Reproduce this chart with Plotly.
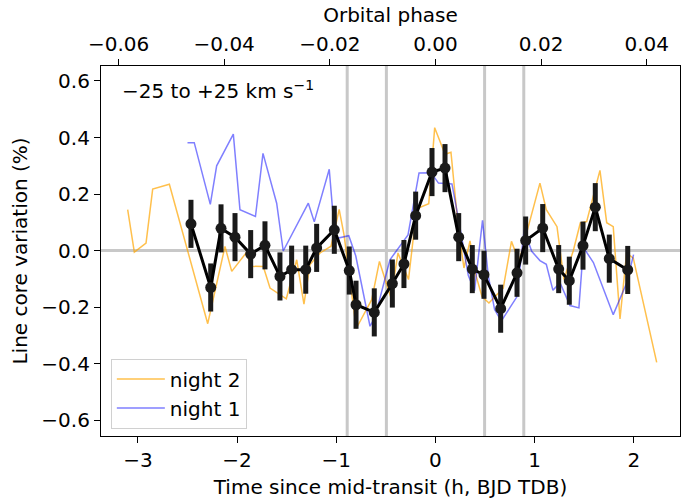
import plotly.graph_objects as go

# night 2 (orange), hours from mid-transit vs line core variation (%)
hours_n2 = [-3.103, -3.036, -2.918, -2.851, -2.683, -2.296, -2.122, -2.054, -1.910, -1.853,
            -1.736, -1.668, -1.504, -1.399, -1.326, -1.265, -1.164, -1.053, -0.971, -0.922,
            -0.799, -0.643, -0.565, -0.449, -0.378, -0.272, -0.190, -0.068, -0.008, 0.096,
            0.156, 0.232, 0.287, 0.348, 0.403, 0.469, 0.539, 0.683, 0.766, 0.842,
            1.053, 1.117, 1.225, 1.278, 1.295, 1.389, 1.460, 1.524, 1.658, 1.726,
            1.792, 1.860, 1.927, 1.994, 2.230]
ccv_n2 = [0.145, -0.005, 0.027, 0.218, 0.235, -0.258, 0.015, -0.073, -0.008, -0.055,
          -0.056, -0.132, -0.170, -0.032, -0.189, -0.049, -0.008, 0.016, 0.146, 0.056,
          -0.275, -0.173, -0.038, -0.166, -0.008, -0.102, 0.148, 0.166, 0.435, 0.341,
          0.348, 0.074, -0.061, 0.035, -0.081, -0.162, -0.185, -0.132, 0.033, -0.038,
          0.239, 0.145, 0.085, -0.074, -0.102, 0.000, 0.098, 0.103, 0.284, 0.099,
          0.085, -0.241, -0.008, -0.026, -0.395]

# night 1 (blue)
hours_n1 = [-2.500, -2.432, -2.270, -2.206, -2.038, -1.971, -1.815, -1.739, -1.601, -1.535,
            -1.282, -1.222, -1.071, -1.013, -0.874, -0.804, -0.660, -0.610, -0.459, -0.277,
            -0.166, -0.045, 0.030, 0.166, 0.237, 0.331, 0.394, 0.474, 0.532, 0.596,
            0.663, 0.819, 0.894, 0.970, 1.053, 1.117, 1.184, 1.255, 1.356, 1.446,
            1.491, 1.592, 1.792, 1.927, 1.997]
ccv_n1 = [0.382, 0.382, 0.164, 0.300, 0.412, 0.145, 0.121, 0.344, 0.168, -0.001,
          0.168, 0.102, 0.288, 0.042, 0.053, -0.018, -0.267, -0.235, -0.032, 0.056,
          0.275, 0.276, 0.239, 0.236, 0.102, -0.088, -0.141, 0.107, -0.088, -0.208,
          -0.249, -0.164, 0.074, -0.002, -0.035, -0.048, -0.140, -0.113, -0.194, -0.202,
          0.012, -0.042, -0.226, -0.114, -0.014]

# binned average of both nights
hours_bin = [-2.465, -2.266, -2.162, -2.021, -1.863, -1.719, -1.568, -1.450, -1.308, -1.198,
             -1.020, -0.869, -0.801, -0.617, -0.435, -0.318, -0.200, -0.035, 0.096, 0.234,
             0.371, 0.489, 0.657, 0.822, 0.909, 1.081, 1.242, 1.349, 1.487, 1.611,
             1.752, 1.938]
ccv_bin = [0.095, -0.130, 0.079, 0.048, -0.012, 0.019, -0.091, -0.067, -0.067, 0.010,
           0.074, -0.070, -0.191, -0.218, -0.116, -0.047, 0.124, 0.278, 0.292, 0.048,
           -0.065, -0.085, -0.205, -0.078, 0.036, 0.080, -0.065, -0.106, 0.018, 0.154,
           -0.028, -0.068]
err_bin = [0.085, 0.085, 0.085, 0.085, 0.085, 0.085, 0.085, 0.085, 0.085, 0.085,
           0.085, 0.085, 0.085, 0.085, 0.085, 0.085, 0.085, 0.085, 0.085, 0.085,
           0.085, 0.085, 0.085, 0.085, 0.085, 0.085, 0.085, 0.085, 0.085, 0.085,
           0.085, 0.085]

contacts = [-0.89, -0.495, 0.495, 0.89]
period_h = 53.25

x_ticks = [-3, -2, -1, 0, 1, 2]
phase_ticks = [-0.06, -0.04, -0.02, 0.00, 0.02, 0.04]
y_ticks = [-0.6, -0.4, -0.2, 0.0, 0.2, 0.4, 0.6]

x_range = [-3.372, 2.465]
y_range = [-0.655, 0.653]


def minus(s):
    return s.replace("-", "\u2212")


FONT = dict(family="DejaVu Sans", size=20, color="black")
GRAY = "#c8c8c8"
TICKS = dict(ticks="outside", ticklen=6, tickwidth=1.2, tickcolor="black",
             tickfont=FONT, showgrid=False, zeroline=False, automargin=False)

fig = go.Figure()

fig.add_trace(go.Scatter(
    x=hours_n2, y=ccv_n2, mode="lines", name="night 2",
    line=dict(color="rgba(255,165,0,0.7)", width=1.5),
))
fig.add_trace(go.Scatter(
    x=hours_n1, y=ccv_n1, mode="lines", name="night 1",
    line=dict(color="rgba(0,0,255,0.5)", width=1.5),
))
fig.add_trace(go.Scatter(
    x=hours_bin, y=ccv_bin, mode="lines+markers", showlegend=False,
    line=dict(color="black", width=3),
    marker=dict(color="#1a1a1a", size=11),
    error_y=dict(type="data", array=err_bin, color="#1a1a1a", thickness=5, width=0),
))
# invisible trace so the top (phase) axis gets drawn
fig.add_trace(go.Scatter(x=[0], y=[0], xaxis="x2", mode="markers",
                         marker=dict(opacity=0), showlegend=False, hoverinfo="skip"))

for c in contacts:
    fig.add_shape(type="line", x0=c, x1=c, y0=0, y1=1, xref="x", yref="paper",
                  line=dict(color=GRAY, width=3), layer="below")

fig.add_annotation(x=0.033, y=0.975, xref="paper", yref="paper",
                   text="\u221225 to +25 km s<sup>\u22121</sup>", showarrow=False,
                   xanchor="left", yanchor="top", font=FONT)

fig.update_layout(
    width=681, height=502,
    margin=dict(l=101, r=1, t=66, b=66),
    paper_bgcolor="white", plot_bgcolor="white",
    font=FONT,
    xaxis=dict(
        range=x_range, tickvals=x_ticks, ticktext=[minus(str(v)) for v in x_ticks],
        showline=True, linecolor="black", linewidth=1.2, mirror=True,
        title=dict(text="Time since mid-transit (h, BJD TDB)", standoff=8, font=FONT),
        **TICKS,
    ),
    xaxis2=dict(
        overlaying="x", side="top", anchor="y",
        range=[v / period_h for v in x_range],
        tickvals=phase_ticks, ticktext=[minus("%.2f" % v) for v in phase_ticks],
        title=dict(text="Orbital phase", standoff=4, font=FONT),
        **TICKS,
    ),
    yaxis=dict(
        range=y_range, tickvals=y_ticks, ticktext=[minus("%.1f" % v) for v in y_ticks],
        showline=True, linecolor="black", linewidth=1.2, mirror=True,
        title=dict(text="Line core variation (%)", standoff=8, font=FONT),
        **{k: v for k, v in TICKS.items() if k != "zeroline"},
        zeroline=True, zerolinecolor=GRAY, zerolinewidth=3,
    ),
    legend=dict(
        x=0.017, y=0.02, xanchor="left", yanchor="bottom",
        bgcolor="white", bordercolor="#d0d0d0", borderwidth=1,
        font=FONT, tracegroupgap=0, itemwidth=48,
    ),
    showlegend=True,
)

fig.write_html("out.html", config={"displayModeBar": False},
               post_script="document.body.style.margin='0';")
